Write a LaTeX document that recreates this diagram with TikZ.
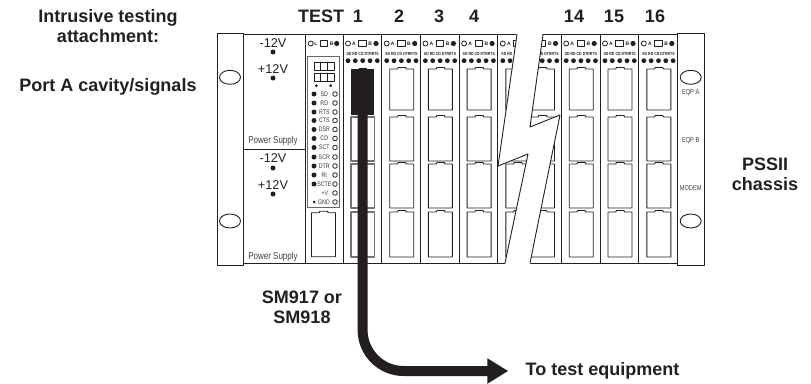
\documentclass[tikz,border=0pt]{standalone}
\usepackage{fontspec}
\setmainfont{Liberation Sans}
\newfontfamily\narrowfont[FakeStretch=0.8]{Liberation Sans}
\usetikzlibrary{arrows.meta}
\definecolor{ink}{HTML}{231F20}
\newcommand{\portpath}[4]{% left, top, bottom, style
  \draw[#4] (#1,#2) -- ++(7.7,0) -- ++(0.8,-1.5) -- ++(7.4,0) -- ++(0.8,1.5) -- ++(7.3,0) -- (#1+24,#3) -- (#1,#3) -- cycle;
}
\begin{document}
\begin{tikzpicture}[
    x=1pt,
    y=-1pt,
    line cap=round,
    line join=round,
    edge/.style={draw=ink,line width=0.9pt},
    lamp/.style={draw=ink,line width=0.8pt},
    port/.style={draw=ink,line width=0.9pt},
    portpale/.style={draw=black!55,line width=1.3pt},
    title/.style={font=\fontsize{18}{20}\selectfont\bfseries,text=ink,align=center,inner sep=0pt},
    volt/.style={font=\fontsize{12.7}{14}\selectfont,text=ink,inner sep=0pt},
    panel/.style={font=\narrowfont\fontsize{10}{12}\selectfont,text=black!75,inner sep=0pt},
    eartext/.style={font=\narrowfont\fontsize{7.1}{8}\selectfont,text=black!75,inner sep=0pt},
    pin/.style={font=\narrowfont\fontsize{6.6}{8}\selectfont,text=black!80,inner sep=0pt},
    tiny/.style={font=\narrowfont\bfseries\fontsize{4.4}{5}\selectfont,text=ink,inner sep=0pt},
    letter/.style={font=\bfseries\fontsize{5}{6}\selectfont,text=ink,inner sep=0pt},
    cable/.style={draw=ink,line width=10pt,line cap=butt,rounded corners=41pt,-{Triangle[width=24pt,length=21pt]}}
]
\useasboundingbox (0,0) rectangle (811,383);

% -------------------------------------------------
% Chassis, dividers
% -------------------------------------------------

\draw[edge] (243,34.5) rectangle (677,263);
\draw[edge] (243,149) -- (305,149);
\draw[edge] (305,34.5) -- (305,263);

\foreach \cx in {343,381.7,420.4,459.1,497.8,561.2,600,638.8}
  \draw[edge] (\cx,34.5) -- (\cx,263);

% -------------------------------------------------
% Cards: lamps, labels, test points, ports
% -------------------------------------------------

\foreach \cx [count=\n] in {343,381.7,420.4,459.1,561.2,600,638.8} {
  \draw[lamp] (\cx+5,43.5) circle (2.5pt);
  \node[letter] (a\n) at (\cx+11,43.7) {A};
  \draw[lamp] (\cx+15.8,40.8) rectangle ++(7.5,5.8);
  \node[letter] (b\n) at (\cx+27.3,43.7) {B};
  \fill[ink] (\cx+33,43.5) circle (2.6pt);
  \node[tiny] (sig\n) at (\cx+19.7,54) {SD RD CD DTRRTS};
}

% the two cards that the break cuts
\draw[lamp] (502.8,43.5) circle (2.5pt);
\node[letter] (abreak) at (508.8,43.7) {A};
\draw[lamp] (513.6,40.8) rectangle ++(7.5,5.8);
\node[tiny,anchor=west] (sigleft) at (501.2,54) {SD RD};

\draw[lamp] (538.3,40.8) rectangle ++(7.5,5.8);
\node[letter] (bbreak) at (549.8,43.7) {B};
\fill[ink] (555.5,43.5) circle (2.6pt);
\node[tiny,anchor=east] (sigright) at (558.8,54) {CD DTRRTS};

\foreach \cx in {343,381.7,420.4,459.1,497.8,522.5,561.2,600,638.8}
  \foreach \dx in {5,12.3,19.7,27,34.3}
    \fill[ink] (\cx+\dx,60.7) circle (2.4pt);

\foreach \cx in {381.7,420.4,459.1,497.8,522.5,561.2,600,638.8}
  \foreach \ptop/\pbot in {69/110,117/161,164/208,212/257}
    \portpath{\cx+8}{\ptop}{\pbot}{port};

\foreach \ptop/\pbot in {117/161,164/208,212/257}
  \draw[portpale] (351,\ptop) rectangle (374.5,\pbot);

% -------------------------------------------------
% Break in the card row
% -------------------------------------------------

\fill[white] (517,32) -- (498,166) -- (528,154) -- (505,265) -- (530,265)
  -- (560,115) -- (530,127) -- (543,32) -- cycle;
\draw[edge] (517,34.5) -- (498,166) -- (528,154) -- (505,263);
\draw[edge] (543,34.5) -- (530,127) -- (560,115) -- (530,263);

% -------------------------------------------------
% Ears
% -------------------------------------------------

\draw[edge,fill=white] (217,33) rectangle (243,265);
\draw[edge,fill=white] (677,33) rectangle (704,265);
\foreach \ex in {230,690.7}
  \foreach \ey in {77.3,221}
    \draw[edge] (\ex,\ey) ellipse (10.5pt and 7pt);

\node[eartext] (eqpa)  at (690.7,93)    {EQP A};
\node[eartext] (eqpb)  at (690.7,140.7) {EQP B};
\node[eartext] (modem) at (690.7,187.7) {MODEM};

% -------------------------------------------------
% Power supplies
% -------------------------------------------------

\node[volt] (minusa) at (273,43)  {-12V};
\node[volt] (plusa)  at (273,69)  {+12V};
\node[volt] (minusb) at (273,158) {-12V};
\node[volt] (plusb)  at (273,185) {+12V};
\foreach \vy in {52,78,168,194}
  \fill[ink] (273,\vy) circle (2.5pt);
\node[panel] (supplya) at (273,140.7) {Power Supply};
\node[panel] (supplyb) at (273,256.7) {Power Supply};

% -------------------------------------------------
% Test card
% -------------------------------------------------

\draw[lamp] (310.7,43.5) circle (2.5pt);
\node[letter] (ltest) at (316,43.7) {L};
\draw[lamp] (320.2,40.8) rectangle ++(7.5,5.8);
\node[letter] (btest) at (331.7,43.7) {B};
\fill[ink] (336.7,43.5) circle (2.6pt);

\draw[draw=black!60,line width=1.2pt] (307.7,56.7) rectangle (339.3,207.7);
\foreach \gy in {62,73} {
  \draw[lamp] (314,\gy) rectangle (334,\gy+8);
  \foreach \gx in {320.7,327.4}
    \draw[lamp] (\gx,\gy) -- (\gx,\gy+8);
}
\fill[ink] (316.3,85.7) circle (1.5pt);
\fill[ink] (330.7,85.7) circle (1.5pt);

\foreach \ly/\lname [count=\n] in {94/SD,103/RD,112/RTS,120.5/CTS,129.5/DSR,138.5/CD,147.5/SCT,157/SCR,166/DTR,175/RI,184/SCTE}{
  \fill[ink] (314,\ly) circle (2.5pt);
  \node[pin] (led\n) at (324.3,\ly) {\lname};
  \draw[lamp] (335,\ly) circle (2.3pt);
}
\node[pin] (ledv) at (324.8,193) {+V};
\draw[lamp] (335,193) circle (2.3pt);
\fill[ink] (314,202) circle (1.5pt);
\node[pin] (ledg) at (324,202) {GND};
\draw[lamp] (335,202) circle (2.3pt);

\portpath{311.5}{212.7}{256.7}{port};

% -------------------------------------------------
% Titles
% -------------------------------------------------

\node[title] (intrusive) at (108,26) {Intrusive testing\\attachment:};
\node[title] (cavity)    at (108,87) {Port A cavity/signals};
\node[title] (pssii)     at (765,174) {PSSII\\chassis};
\node[title] (smlabel)   at (302,307) {SM917 or\\SM918};
\node[title] (totest)    at (602.5,371) {To test equipment};

\node[title] (test)  at (321,16) {TEST};
\node[title] (slota) at (358,16) {1};
\node[title] (slotb) at (399,16) {2};
\node[title] (slotc) at (439,16) {3};
\node[title] (slotd) at (474,16) {4};
\node[title] (slote) at (574,16) {14};
\node[title] (slotf) at (614,16) {15};
\node[title] (slotg) at (655,16) {16};

% -------------------------------------------------
% Connector and its cable
% -------------------------------------------------

\node[fill=ink,minimum width=23.5pt,minimum height=46pt,inner sep=0pt] (plug) at (362.6,92) {};
\fill[ink] (358.5,69.5) rectangle (366.7,67.5);

\coordinate (cableend) at (508.3,371);
\draw[cable] (plug.south) |- (cableend);

\end{tikzpicture}
\end{document}
